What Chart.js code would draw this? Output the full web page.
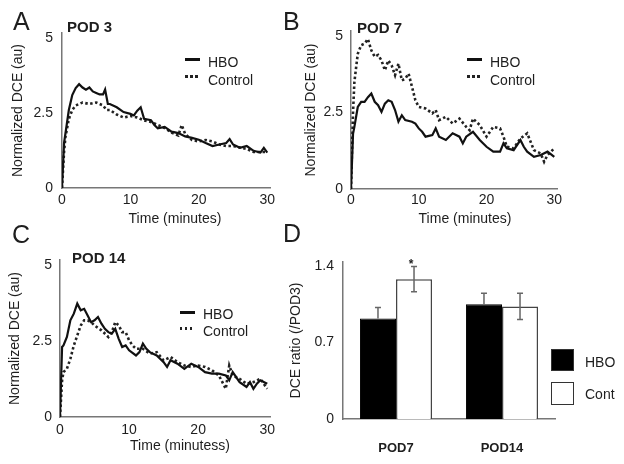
<!DOCTYPE html>
<html>
<head>
<meta charset="utf-8">
<script src="https://cdn.jsdelivr.net/npm/chart.js@4.4.1/dist/chart.umd.min.js"></script>
<style>
html,body{margin:0;padding:0;background:#fff;}
#fig{position:relative;width:624px;height:464px;overflow:hidden;font-family:"Liberation Sans",Arial,sans-serif;color:#1e1e1e;}
#fig canvas{position:absolute;}
.t{position:absolute;line-height:1;white-space:nowrap;font-size:14px;}
.letter{font-size:25px;}
.pod{font-size:15px;font-weight:bold;}
.xt{transform:translateX(-50%);}
.solid,.dots{position:absolute;width:15px;height:2.5px;}
.solid{background:#111;}
.dots{background:repeating-linear-gradient(90deg,#222 0 2.5px,transparent 2.5px 5px);}
.box{position:absolute;width:23px;height:21px;border:1px solid #333;box-sizing:border-box;}
</style>
</head>
<body>
<div id="fig">
  <canvas id="cA" width="300" height="232" style="left:0;top:0"></canvas>
  <canvas id="cB" width="328" height="232" style="left:296px;top:0"></canvas>
  <canvas id="cC" width="300" height="232" style="left:0;top:232px"></canvas>
  <canvas id="cD" width="342" height="232" style="left:282px;top:232px"></canvas>

  <div class="t letter" style="left:13px;top:9px">A</div>
  <div class="t letter" style="left:283px;top:9px">B</div>
  <div class="t letter" style="left:12px;top:222px">C</div>
  <div class="t letter" style="left:283px;top:221px">D</div>

  <div class="t pod" style="left:67px;top:19px">POD 3</div>
  <div class="t pod" style="left:357px;top:20px">POD 7</div>
  <div class="t pod" style="left:72px;top:250px">POD 14</div>

  <div class="solid" style="left:185px;top:58px"></div>
  <div class="t" style="left:208px;top:55px">HBO</div>
  <div class="dots" style="left:185px;top:75px"></div>
  <div class="t" style="left:208px;top:73px">Control</div>

  <div class="solid" style="left:467px;top:58px"></div>
  <div class="t" style="left:490px;top:55px">HBO</div>
  <div class="dots" style="left:467px;top:75px"></div>
  <div class="t" style="left:490px;top:73px">Control</div>

  <div class="solid" style="left:180px;top:311px"></div>
  <div class="t" style="left:203px;top:307px">HBO</div>
  <div class="dots" style="left:180px;top:327px"></div>
  <div class="t" style="left:203px;top:324px">Control</div>

  <div class="box" style="left:551px;top:349px;height:22px;background:#000"></div>
  <div class="t" style="left:585px;top:355px">HBO</div>
  <div class="box" style="left:551px;top:382px;height:23px;background:#fff"></div>
  <div class="t" style="left:585px;top:387px">Cont</div>

  <div class="t xt" style="left:175px;top:211px">Time (minutes)</div>
  <div class="t xt" style="left:465px;top:211px">Time (minutes)</div>
  <div class="t xt" style="left:180px;top:438px">Time (minutess)</div>
</div>

<script>
// Tick values
const xTicks = [0, 10, 20, 30];
const yTicksDce = [0, 2.5, 5];
const yTicksRatio = [0, 0.7, 1.4];

// POD 3 (A)
const tHboA = [0,0.3,1,1.5,2,2.5,3,3.5,4,4.5,5,5.5,6,6.3,6.7,7,8,9,10,10.5,11,11.5,12,13,13.5,14,15,16,17,18,19,20,21,22,23,24,24.5,25,26,27,28,29,29.5,30];
const hboA  = [0,1.5,2.6,3.1,3.33,3.46,3.35,3.28,3.35,3.22,3.17,3.12,3.12,3.28,2.8,2.8,2.69,2.53,2.47,2.42,2.58,2.69,2.31,2.26,2.1,1.99,2.04,1.88,1.83,1.72,1.67,1.61,1.5,1.4,1.45,1.5,1.63,1.45,1.34,1.4,1.24,1.18,1.34,1.18];
const tCtrlA = [0,0.3,0.5,1,1.5,2,3,4,5,6,6.5,7,8,9,10,11,12,13,14,15,16,17,17.5,18,19,20,21,22,23,24,25,26,27,28,29,30];
const ctrlA  = [0,1.2,1.7,2.3,2.6,2.75,2.85,2.8,2.85,2.75,2.6,2.6,2.45,2.35,2.4,2.35,2.25,2.2,2.1,2.0,1.85,1.75,2.1,1.8,1.6,1.55,1.6,1.55,1.45,1.4,1.4,1.35,1.3,1.2,1.2,1.2];

// POD 7 (B)
const tHboB = [0,0.3,0.5,1,1.5,2,2.5,3,3.5,4,4.5,5,5.5,6,6.5,7,7.5,8,9,9.5,10,10.5,11,12,12.5,13,14,15,16,16.5,17,18,19,20,21,22,22.5,23,24,25,25.5,26,27,28,29,30];
const hboB  = [0,1.8,2.03,2.68,2.85,2.85,3.0,3.12,2.85,2.74,2.52,2.79,2.9,2.85,2.58,2.2,2.41,2.25,2.2,2.14,1.98,1.87,1.71,1.76,1.98,1.71,1.6,1.82,1.71,1.49,1.71,1.87,1.6,1.38,1.22,1.22,1.49,1.33,1.27,1.6,1.38,1.22,1.05,1.11,1.22,1.05];
const tCtrlB = [0,0.3,0.5,1,1.5,2,2.5,3,3.5,4,4.5,5,5.5,6,6.5,7,7.5,8,8.5,9,9.5,10,11,12,12.5,13,14,15,16,17,17.5,18,19,20,21,22,22.5,23,24,25,26,27,28,28.5,29,30];
const ctrlB  = [0,2.5,3.5,4.42,4.7,4.75,4.9,4.53,4.32,4.38,4.2,3.88,4.2,4.04,3.72,4.1,3.55,3.6,3.77,3.34,2.9,2.68,2.63,2.47,2.58,2.25,2.36,2.14,2.3,2.03,1.92,2.3,2.09,1.71,2.03,1.98,1.71,1.38,1.33,1.65,1.82,1.27,1.16,0.89,1.11,1.33];

// POD 14 (C)
const tHboC = [0,0.3,0.5,1,1.5,2,2.5,3,3.5,4,4.5,5,5.5,6,6.5,7,7.5,8,8.5,9,9.5,10,11,11.5,12,12.5,13,14,15,15.5,16,17,18,19,20,21,22,23,24,24.5,25,26,27,27.5,28,28.5,29,30];
const hboC  = [0,2.31,2.36,2.64,3.19,3.41,3.74,3.52,3.57,3.35,3.13,3.19,3.3,3.08,2.91,2.8,2.75,2.91,2.58,2.31,2.36,2.2,2.03,2.14,2.42,2.25,2.14,2.03,1.81,1.65,1.87,1.76,1.59,1.76,1.65,1.48,1.43,1.43,1.37,1.21,1.48,1.15,0.99,1.15,0.93,1.1,1.21,1.1];
const tCtrlC = [0,0.3,0.5,1,1.5,2,2.5,3,3.5,4,4.5,5,6,7,7.5,8,8.5,9,9.5,10,10.5,11,12,13,14,15,16,17,18,19,20,21,22,23,24,24.5,25,26,27,28,29,30];
const ctrlC  = [0,1.2,1.48,1.59,1.92,2.36,2.69,3.02,3.19,3.19,3.13,3.02,2.86,2.64,2.8,3.13,3.02,2.8,2.8,2.53,2.36,2.25,2.25,2.09,2.14,1.87,1.98,1.81,1.7,1.65,1.7,1.65,1.54,1.37,0.93,1.7,1.37,1.26,1.1,1.15,1.26,0.93];

// DCE ratio (D)
const podLabels = ["POD7", "POD14"];
const ratioHbo = [0.92, 1.05];
const ratioHboErr = [0.10, 0.10];
const ratioCont = [1.28, 1.03];
const ratioContErr = [0.115, 0.12];
const ratioContStar = [true, false];

const FONT = '"Liberation Sans", Arial, sans-serif';
const INK = "#1e1e1e";
const AXIS = "#777";
Chart.defaults.font.family = FONT;
Chart.defaults.font.size = 14;
Chart.defaults.color = INK;

const pts = (ts, vs) => ts.map((t, i) => ({x: t, y: vs[i]}));
const fixTicks = arr => s => { s.ticks = arr.map(v => ({value: v})); };

function linePanel(id, p){
  return new Chart(document.getElementById(id), {
    type: "line",
    data: {datasets: [
      {label: "HBO", data: pts(p.tH, p.vH), borderColor: "#111", borderWidth: 2.2, pointRadius: 0, tension: 0},
      {label: "Control", data: pts(p.tC, p.vC), borderColor: "#222", borderWidth: 2.6,
       borderDash: [2.5, 2.5], pointRadius: 0, tension: 0},
    ]},
    options: {
      responsive: false, animation: false,
      layout: {padding: {top: p.top, right: p.right, left: 0, bottom: 0}},
      plugins: {legend: {display: false}, tooltip: {enabled: false}},
      scales: {
        x: {type: "linear", min: 0, max: 30.4, afterBuildTicks: fixTicks(xTicks),
            ticks: {padding: p.xPad, callback: v => String(v)},
            grid: {display: false, drawTicks: false}, border: {color: AXIS, width: 1.5},
            afterFit: s => { s.height = p.xH; }},
        y: {min: 0, max: p.yMax, afterBuildTicks: fixTicks(yTicksDce),
            ticks: {padding: p.yPad, callback: v => String(v)},
            grid: {display: false, drawTicks: false}, border: {color: AXIS, width: 1.5},
            title: {display: true, text: "Normalized DCE (au)", padding: {top: p.tPad, bottom: 0}},
            afterFit: s => { s.width = p.yW; }},
      },
    },
  });
}

linePanel("cA", {tH: tHboA, vH: hboA, tC: tCtrlA, vC: ctrlA,
  top: 33, right: 30, xH: 44, yW: 62, yMax: 5.167, xPad: 4, yPad: 9, tPad: 10});
linePanel("cB", {tH: tHboB, vH: hboB, tC: tCtrlB, vC: ctrlB,
  top: 31, right: 67, xH: 43, yW: 55, yMax: 5.163, xPad: 3, yPad: 8, tPad: 6.5});
linePanel("cC", {tH: tHboC, vH: hboC, tC: tCtrlC, vC: ctrlC,
  top: 28, right: 30, xH: 47, yW: 60, yMax: 5.18, xPad: 5, yPad: 8, tPad: 6.5});

// Error bars (+ significance mark) for the ratio panel
const errorBars = {
  id: "errorBars",
  afterDatasetsDraw(chart){
    const {ctx, scales: {y}} = chart;
    chart.data.datasets.forEach((ds, i) => {
      chart.getDatasetMeta(i).data.forEach((bar, j) => {
        const v = ds.data[j], e = ds.err[j];
        const top = y.getPixelForValue(v + e);
        const bot = ds.upOnly ? bar.y : y.getPixelForValue(v - e);
        ctx.save();
        ctx.strokeStyle = "#666"; ctx.lineWidth = 1.5;
        ctx.beginPath();
        ctx.moveTo(bar.x, top); ctx.lineTo(bar.x, bot);
        ctx.moveTo(bar.x - 3, top); ctx.lineTo(bar.x + 3, top);
        if (!ds.upOnly){ ctx.moveTo(bar.x - 3, bot); ctx.lineTo(bar.x + 3, bot); }
        ctx.stroke();
        if (ds.star && ds.star[j]){
          ctx.fillStyle = "#222"; ctx.font = "bold 12px " + FONT; ctx.textAlign = "center";
          ctx.fillText("*", bar.x - 3, top + 1);
        }
        ctx.restore();
      });
    });
  },
};

new Chart(document.getElementById("cD"), {
  type: "bar",
  data: {labels: podLabels, datasets: [
    {label: "HBO", data: ratioHbo, err: ratioHboErr, upOnly: true,
     backgroundColor: "#000", borderColor: "#000", borderWidth: 1},
    {label: "Cont", data: ratioCont, err: ratioContErr, star: ratioContStar,
     backgroundColor: "#fff", borderColor: "#444", borderWidth: 1.5},
  ]},
  options: {
    responsive: false, animation: false,
    datasets: {bar: {categoryPercentage: 0.68, barPercentage: 1}},
    layout: {padding: {top: 30, right: 69, left: 0, bottom: 0}},
    plugins: {legend: {display: false}, tooltip: {enabled: false}},
    scales: {
      x: {grid: {display: false, drawTicks: false}, border: {color: AXIS, width: 1.5},
          ticks: {padding: 22, font: {size: 13, weight: "bold"}},
          afterFit: s => { s.height = 45; }},
      y: {min: 0, max: 1.437, afterBuildTicks: fixTicks(yTicksRatio),
          ticks: {padding: 9, callback: v => String(v)},
          grid: {display: false, drawTicks: false}, border: {color: AXIS, width: 1.5},
          title: {display: true, text: "DCE ratio (/POD3)", padding: {top: 5.5, bottom: 0}},
          afterFit: s => { s.width = 61; }},
    },
  },
  plugins: [errorBars],
});
</script>
</body>
</html>
